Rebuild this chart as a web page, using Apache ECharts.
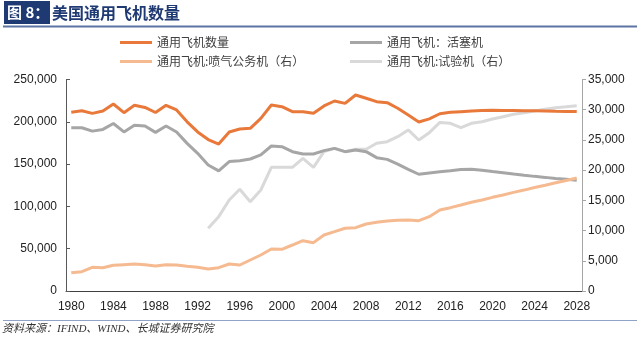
<!DOCTYPE html>
<html>
<head>
<meta charset="utf-8">
<script src="https://cdn.jsdelivr.net/npm/echarts@6/dist/echarts.min.js"></script>
<style>
html,body{margin:0;padding:0;background:#fff;}
#c{width:640px;height:340px;}
</style>
</head>
<body>
<div id="c"></div>
<script>
var years = [];
for (var y = 1980; y <= 2028; y++) years.push(String(y));

var seriesNames = ['通用飞机数量', '通用飞机：活塞机', '通用飞机:喷气公务机（右）', '通用飞机:试验机（右）'];

var totalAircraft = [211200,213000,210000,212800,221000,210800,219500,217000,211000,219500,
  214000,200000,188000,179000,173700,188000,191500,192300,204000,219800,
  217900,212000,212000,210000,218700,224600,221800,231700,227800,223800,
  222600,216000,208000,199800,203500,209500,211200,212000,212800,213300,
  213600,213500,213400,213200,213000,212800,212500,212300,212100];

var pistonAircraft = [193000,193000,189000,191000,198000,188000,196000,195000,187500,195000,
  188000,174500,162700,149000,142000,153000,154000,156000,160800,171400,
  170600,164700,162000,162000,165900,168600,164700,166700,164700,157600,
  155600,150000,143800,138000,139500,141000,142200,143500,143800,142800,
  141200,139800,138200,136800,135500,134300,133000,132000,131000];

var businessJets = [3030,3200,3920,3860,4250,4360,4470,4360,4140,4360,
  4300,4080,3920,3640,3860,4470,4300,5130,5960,6950,
  6900,7610,8330,8000,9270,9820,10380,10480,11090,11370,
  11590,11700,11750,11640,12300,13400,13790,14230,14680,15060,
  15500,15900,16320,16700,17120,17500,17900,18300,18700];

var experimentalAircraft = [null,null,null,null,null,null,null,null,null,null,
  null,null,null,10380,12300,15060,16830,14780,16715,20470,
  20470,20470,21960,20470,23060,23610,23060,23450,23450,24440,
  24710,25540,26650,24990,26200,27900,27750,27030,27750,28020,
  28470,28850,29240,29510,29790,30070,30340,30500,30670];

var leftTicks = {min: 0, max: 250000, interval: 50000};
var rightTicks = {min: 0, max: 35000, interval: 5000};

var colors = ['#E8793A', '#A6A6A6', '#F5BA90', '#D9D9D9'];

function fmt(v){ return String(v).replace(/\B(?=(\d{3})+(?!\d))/g, ','); }

var chart = echarts.init(document.getElementById('c'), null, {renderer: 'canvas'});
var legendText = {fontFamily: '"Noto Sans CJK SC", sans-serif', fontSize: 12, color: '#404040', lineHeight: 14};
var axisLabelFont = {fontFamily: '"Liberation Sans", Arial, sans-serif', fontSize: 12, color: '#222'};

chart.setOption({
  animation: false,
  color: colors,
  legend: [
    {data: [seriesNames[0], seriesNames[2]], orient: 'vertical', left: 120, top: 35.5, itemWidth: 32, itemHeight: 3, itemGap: 5, icon: 'rect', textStyle: legendText, padding: 0},
    {data: [seriesNames[1], seriesNames[3]], orient: 'vertical', left: 350, top: 35.5, itemWidth: 32, itemHeight: 3, itemGap: 5, icon: 'rect', textStyle: legendText, padding: 0}
  ],
  grid: {left: 66, right: 58, top: 79.5, bottom: 49, containLabel: false},
  xAxis: {
    type: 'category', data: years, boundaryGap: true,
    axisLine: {lineStyle: {color: '#404040', width: 1}},
    axisTick: {inside: true, length: 4, interval: 3, lineStyle: {color: '#404040'}},
    axisLabel: Object.assign({interval: 3, margin: 10}, axisLabelFont),
    splitLine: {show: false}
  },
  yAxis: [
    {type: 'value', min: leftTicks.min, max: leftTicks.max, interval: leftTicks.interval,
      axisLine: {show: true, lineStyle: {color: '#595959', width: 1}},
      axisTick: {show: true, inside: true, length: 4, lineStyle: {color: '#595959'}},
      axisLabel: Object.assign({margin: 9, formatter: fmt}, axisLabelFont),
      splitLine: {show: false}},
    {type: 'value', position: 'right', min: rightTicks.min, max: rightTicks.max, interval: rightTicks.interval,
      axisLine: {show: true, lineStyle: {color: '#A6A6A6', width: 1}},
      axisTick: {show: true, inside: false, length: 4, lineStyle: {color: '#A6A6A6'}},
      axisLabel: Object.assign({margin: 6, formatter: fmt}, axisLabelFont),
      splitLine: {show: false}}
  ],
  series: [
    {name: seriesNames[0], type: 'line', yAxisIndex: 0, data: totalAircraft, symbol: 'none', lineStyle: {width: 3, color: colors[0]}, z: 4},
    {name: seriesNames[1], type: 'line', yAxisIndex: 0, data: pistonAircraft, symbol: 'none', lineStyle: {width: 3, color: colors[1]}, z: 3},
    {name: seriesNames[2], type: 'line', yAxisIndex: 1, data: businessJets, symbol: 'none', lineStyle: {width: 3, color: colors[2]}, z: 5},
    {name: seriesNames[3], type: 'line', yAxisIndex: 1, data: experimentalAircraft, symbol: 'none', lineStyle: {width: 3, color: colors[3]}, z: 2}
  ],
  graphic: [
    {type: 'rect', shape: {x: 4, y: 1, width: 46, height: 23}, style: {fill: '#1F3A73'}},
    {type: 'text', x: 7, y: 12.5, style: {text: '图 8：', fill: '#fff', font: 'bold 15px "Noto Sans CJK SC", sans-serif', textVerticalAlign: 'middle'}},
    {type: 'text', x: 52, y: 12.5, style: {text: '美国通用飞机数量', fill: '#1F3A73', font: 'bold 16px "Noto Sans CJK SC", sans-serif', textVerticalAlign: 'middle'}},
    {type: 'line', shape: {x1: 3, y1: 26.5, x2: 637, y2: 26.5}, style: {stroke: '#5D74A2', lineWidth: 2}},
    {type: 'line', shape: {x1: 3, y1: 320.5, x2: 637, y2: 320.5}, style: {stroke: '#8FA3C8', lineWidth: 1}},
    {type: 'text', x: 2, y: 329, style: {text: '资料来源：IFIND、WIND、长城证券研究院', fill: '#333', font: 'italic 11px "Liberation Serif", "Noto Sans CJK SC", serif', textVerticalAlign: 'middle'}}
  ]
});
</script>
</body>
</html>
